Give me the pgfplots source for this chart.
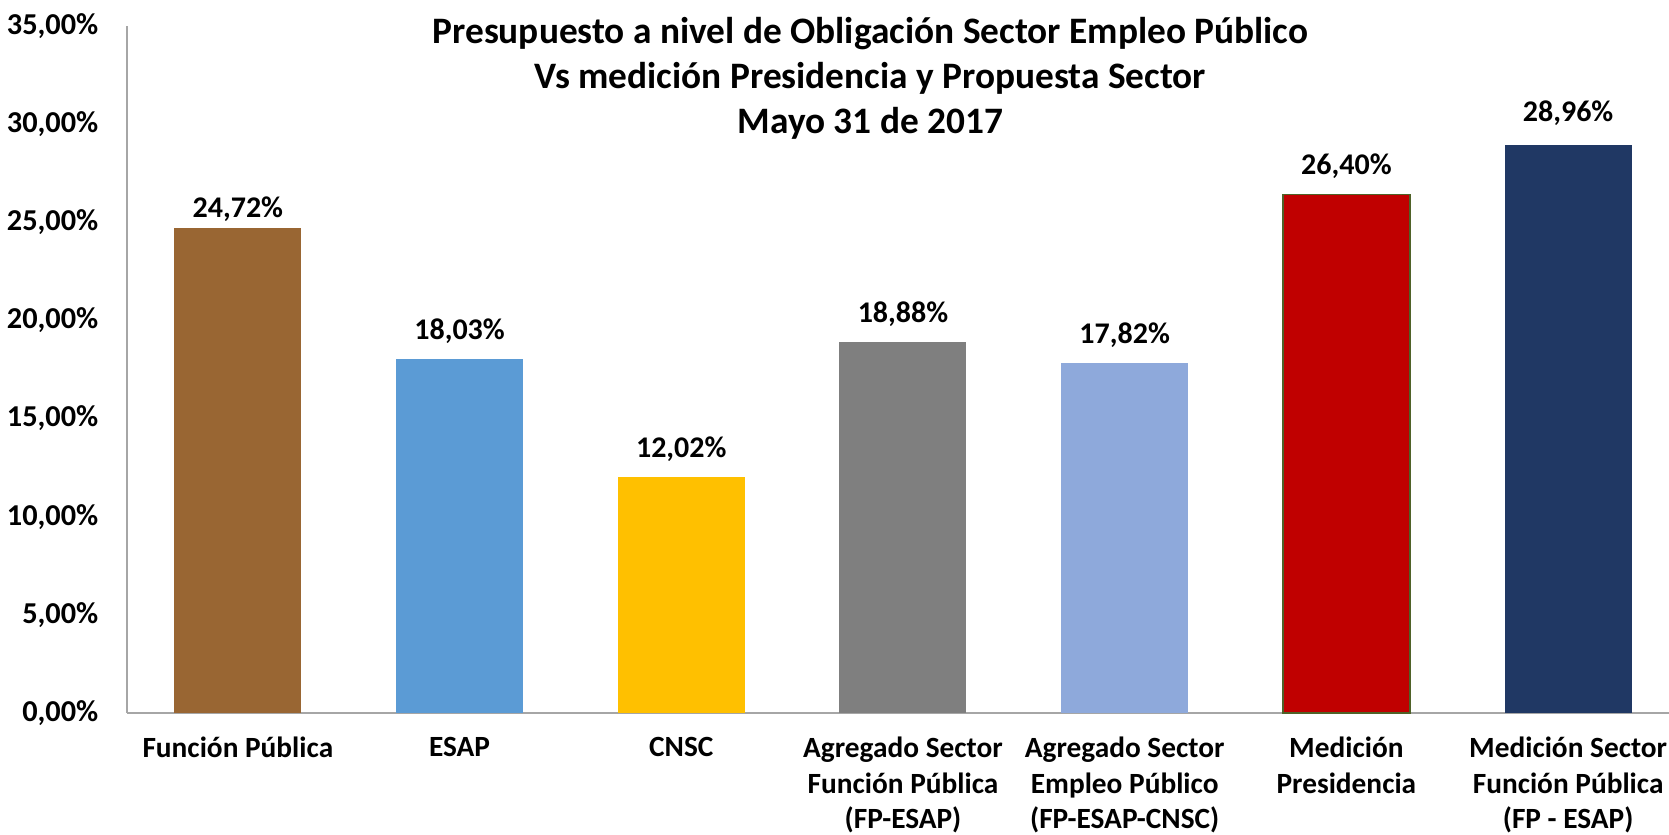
\documentclass[border=0pt]{standalone}
\usepackage{pgfplots}
\pgfplotsset{compat=1.18}
\usepackage{fontspec}
\setmainfont{Carlito}

\definecolor{cFP}{RGB}{153,102,51}
\definecolor{cESAP}{RGB}{91,155,213}
\definecolor{cCNSC}{RGB}{255,192,0}
\definecolor{cAgFP}{RGB}{127,127,127}
\definecolor{cAgEP}{RGB}{142,169,219}
\definecolor{cPres}{RGB}{192,0,0}
\definecolor{cPresEdge}{RGB}{79,98,40}
\definecolor{cSect}{RGB}{32,56,100}
\definecolor{axisgray}{RGB}{166,166,166}

\newcommand{\pct}[1]{\pgfmathprintnumber[fixed,fixed zerofill,precision=2,use comma]{#1}\%}

\begin{document}
\begin{tikzpicture}
% page frame: 1669 x 835 px at 0.3pt per px, plot area SW corner at origin
\useasboundingbox (-38.1pt,-36.6pt) rectangle (462.6pt,213.9pt);
\begin{axis}[
    scale only axis,
    width=465.6pt,
    height=206.1pt,
    xmin=-0.5, xmax=6.5,
    ymin=0, ymax=35,
    ytick={0,5,...,35},
    xtick={0,...,6},
    xticklabels={
        Función Pública,
        ESAP,
        CNSC,
        {Agregado Sector\\Función Pública\\(FP-ESAP)},
        {Agregado Sector\\Empleo Público\\(FP-ESAP-CNSC)},
        {Medición\\Presidencia},
        {Medición Sector\\Función Pública\\(FP - ESAP)}},
    yticklabel={\pct{\tick}},
    /pgf/number format/assume math mode=true,
    major tick length=0pt,
    axis x line*=bottom,
    axis y line*=left,
    axis line style={draw=axisgray, line width=0.6pt},
    x axis line style={-},
    y axis line style={-},
    yticklabel style={anchor=east, inner sep=0pt, xshift=-8.4pt,
        font=\bfseries\fontsize{9.1}{11}\selectfont, text=black},
    xticklabel style={anchor=north, inner sep=0pt, yshift=-7pt, align=center,
        font=\bfseries\fontsize{8.8}{10.7}\selectfont, text=black},
    ybar,
    bar width=38.1pt,
    bar shift=0pt,
    nodes near coords={\pct{\pgfplotspointmeta}},
    nodes near coords style={anchor=base, inner sep=0pt, yshift=6pt,
        font=\bfseries\fontsize{9}{11}\selectfont, text=black},
    clip=false,
]
% label offsets add to the common 6pt
\addplot[fill=cFP, draw=none, nodes near coords style={yshift=-3pt}] coordinates {(0,24.72)};
\addplot[fill=cESAP, draw=none] coordinates {(1,18.03)};
\addplot[fill=cCNSC, draw=none] coordinates {(2,12.02)};
\addplot[fill=cAgFP, draw=none] coordinates {(3,18.88)};
\addplot[fill=cAgEP, draw=none] coordinates {(4,17.82)};
\addplot[fill=cPres, draw=cPresEdge, line width=0.4pt] coordinates {(5,26.40)};
\addplot[fill=cSect, draw=none, nodes near coords style={yshift=1pt}] coordinates {(6,28.96)};
\node[anchor=north, inner sep=0pt, align=center,
      font=\bfseries\fontsize{11.2}{13.4}\selectfont]
  at (rel axis cs:0.479,1) [yshift=2.7pt]
  {Presupuesto a nivel de Obligación Sector Empleo Público\\
   Vs medición Presidencia y Propuesta Sector\\
   Mayo 31 de 2017};
\end{axis}
\end{tikzpicture}
\end{document}
